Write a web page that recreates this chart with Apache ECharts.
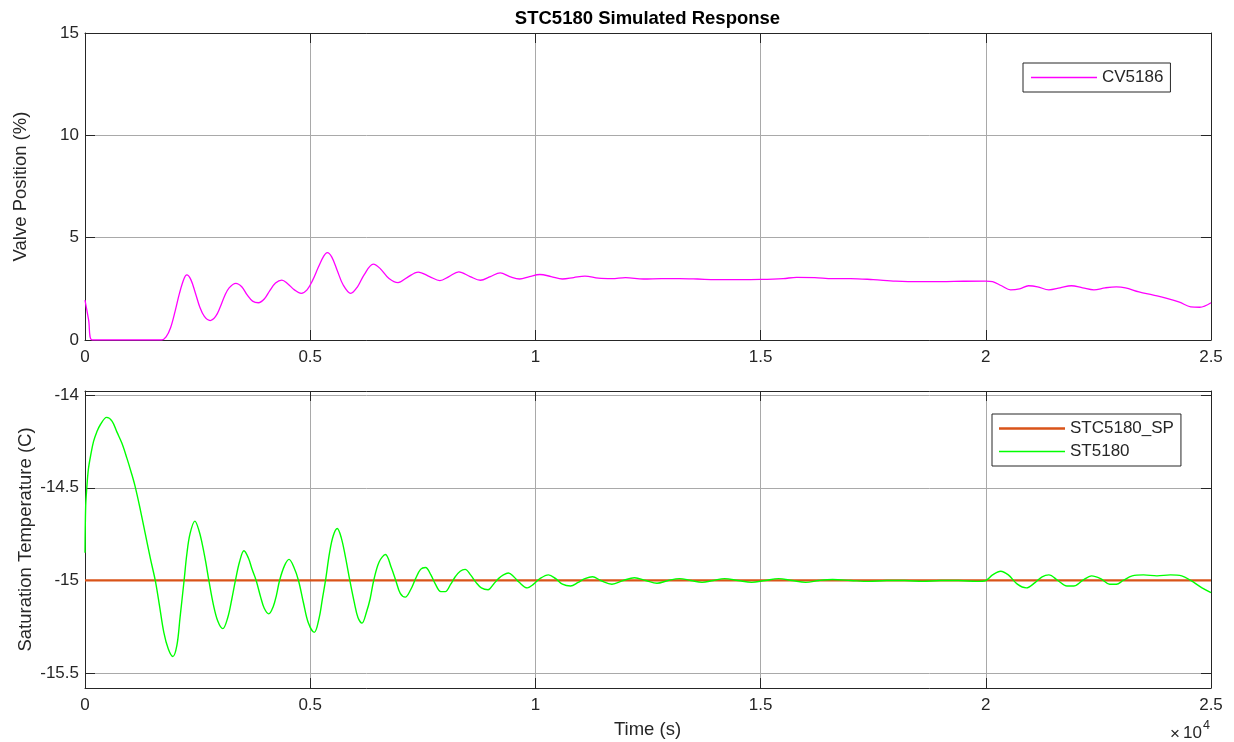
<!DOCTYPE html>
<html>
<head>
<meta charset="utf-8">
<title>STC5180 Simulated Response</title>
<script src="https://cdn.jsdelivr.net/npm/echarts@6/dist/echarts.min.js"></script>
<style>
  html, body { margin: 0; padding: 0; background: #ffffff; }
  #chart { width: 1234px; height: 742px; }
</style>
</head>
<body>
<div id="chart"></div>
<script>
// Tick positions
const timeTicks = [0, 5000, 10000, 15000, 20000, 25000];
const valveTicks = [0, 5, 10, 15];
const tempTicks = [-15.5, -15, -14.5, -14];

// CV5186 valve position (%) vs time (s)
const cvTime = [0, 80, 160, 1700, 1800, 1900, 2000, 2100, 2200, 2260, 2350, 2450, 2550, 2650, 2780,
  2900, 3000, 3100, 3200, 3350, 3480, 3600, 3720, 3850, 3980, 4100, 4230, 4370, 4500, 4650, 4800,
  4930, 5050, 5180, 5300, 5380, 5480, 5600, 5730, 5900, 6050, 6200, 6400, 6550, 6750, 6950, 7150,
  7400, 7650, 7880, 8080, 8300, 8550, 8780, 9000, 9220, 9430, 9650, 9870, 10100, 10350, 10600,
  10850, 11100, 11400, 11700, 12000, 12400, 12800, 13200, 13600, 14000, 14500, 15000, 15500, 15800,
  16200, 16600, 17000, 17500, 18000, 18500, 19000, 19500, 20000, 20150, 20350, 20550, 20750, 20950,
  21150, 21400, 21650, 21900, 22150, 22400, 22650, 22900, 23100, 23400, 23700, 24000, 24300, 24550,
  24750, 25000];
const cvValue = [1.95, 0.98, 0.0, 0.0, 0.15, 0.6, 1.4, 2.3, 3.0, 3.18, 2.95, 2.3, 1.6, 1.15, 0.95,
  1.15, 1.6, 2.15, 2.55, 2.77, 2.6, 2.2, 1.9, 1.82, 2.0, 2.4, 2.78, 2.93, 2.75, 2.45, 2.28,
  2.45, 2.9, 3.55, 4.1, 4.27, 4.05, 3.4, 2.7, 2.28, 2.6, 3.2, 3.71, 3.5, 3.0, 2.8, 3.05,
  3.32, 3.1, 2.9, 3.1, 3.33, 3.1, 2.92, 3.1, 3.28, 3.1, 2.98, 3.1, 3.2, 3.1, 2.98,
  3.05, 3.12, 3.02, 3.0, 3.05, 2.98, 3.0, 3.0, 2.98, 2.95, 2.95, 2.96, 3.0, 3.06,
  3.05, 3.0, 3.0, 2.95, 2.88, 2.85, 2.85, 2.87, 2.88, 2.85, 2.65, 2.45, 2.5, 2.65,
  2.6, 2.45, 2.55, 2.65, 2.55, 2.45, 2.55, 2.6, 2.55, 2.35, 2.2, 2.05, 1.85, 1.62,
  1.6, 1.82];

// ST5180 saturation temperature (C) vs time (s)
const stTime = [0, 15, 40, 75, 130, 190, 260, 340, 480, 600, 710, 820, 930, 1030, 1110, 1230, 1340,
  1450, 1560, 1650, 1750, 1850, 1950, 2040, 2110, 2200, 2260, 2330, 2440, 2530, 2600, 2680, 2750,
  2850, 2950, 3060, 3170, 3260, 3340, 3430, 3530, 3630, 3710, 3800, 3900, 3980, 4080, 4180, 4250,
  4320, 4430, 4530, 4640, 4740, 4850, 4960, 5090, 5200, 5270, 5340, 5430, 5510, 5600, 5690, 5780,
  5880, 5980, 6060, 6150, 6250, 6330, 6410, 6530, 6670, 6800, 6900, 7000, 7110, 7230, 7340, 7450,
  7560, 7680, 7780, 7900, 8000, 8120, 8220, 8330, 8440, 8560, 8680, 8800, 8950, 9070, 9180, 9290,
  9400, 9520, 9640, 9820, 9960, 10100, 10290, 10450, 10600, 10780, 10950, 11100, 11270, 11450,
  11700, 11950, 12200, 12450, 12700, 12950, 13200, 13450, 13700, 13950, 14200, 14500, 14800, 15100,
  15400, 15700, 16000, 16300, 16600, 17000, 17400, 17800, 18200, 18600, 19000, 19400, 19800, 20000,
  20150, 20330, 20500, 20700, 20900, 21100, 21250, 21400, 21600, 21800, 21950, 22150, 22350, 22550,
  22750, 22900, 23050, 23250, 23500, 23800, 24100, 24350, 24550, 24800, 25000];
const stValue = [-14.85, -14.6, -14.5, -14.40, -14.32, -14.25, -14.2, -14.16, -14.12, -14.14, -14.2,
  -14.26, -14.34, -14.42, -14.49, -14.62, -14.75, -14.88, -15.0, -15.13, -15.28, -15.37, -15.41,
  -15.35, -15.2, -15.0, -14.86, -14.75, -14.68, -14.73, -14.8, -14.9, -15.0, -15.13, -15.22, -15.26,
  -15.2, -15.1, -15.0, -14.9, -14.84, -14.88, -14.94, -15.0, -15.09, -15.15, -15.18, -15.14, -15.08,
  -15.0, -14.92, -14.886, -14.93, -15.0, -15.12, -15.23, -15.28, -15.2, -15.1, -15.0, -14.85, -14.76,
  -14.72, -14.77, -14.87, -15.0, -15.12, -15.2, -15.23, -15.17, -15.1, -15.0, -14.9, -14.86, -14.93,
  -15.0, -15.07, -15.09, -15.05, -14.99, -14.94, -14.93, -14.97, -15.02, -15.06, -15.06, -15.02,
  -14.98, -14.95, -14.94, -14.97, -15.01, -15.04, -15.05, -15.02, -14.99, -14.97, -14.96, -14.98,
  -15.01, -15.04, -15.02, -14.99, -14.97, -14.99, -15.02, -15.03, -15.01, -14.99, -14.98, -15.0,
  -15.02, -15.0, -14.985, -15.0, -15.015, -15.0, -14.99, -15.0, -15.01, -15.0, -14.99, -15.0, -15.01,
  -15.0, -14.99, -15.0, -15.01, -15.0, -14.995, -15.0, -15.005, -15.0, -15.0, -15.005, -15.0, -15.0,
  -15.005, -15.0, -14.97, -14.95, -14.97, -15.02, -15.04, -15.01, -14.98, -14.97, -15.0, -15.03,
  -15.03, -15.0, -14.975, -14.99, -15.02, -15.02, -15.0, -14.975, -14.97, -14.975, -14.97, -14.975,
  -15.0, -15.04, -15.065];

// STC5180 setpoint (C)
const spTime = [0, 25000];
const spValue = [-15, -15];

const pairs = (xs, ys) => xs.map((x, i) => [x, ys[i]]);

const FONT = '"Liberation Sans", Arial, Helvetica, sans-serif';
const TEXT = '#262626';
const FRAME = '#262626';
const GRID = '#a9a9a9';

function xAxisPair(gridIndex) {
  const base = {
    gridIndex, type: 'value', min: 0, max: 25000, interval: 5000,
    axisLine: { show: true, onZero: false, lineStyle: { color: FRAME, width: 1 } },
    axisTick: { show: true, inside: true, length: 10, lineStyle: { color: FRAME, width: 1 } }
  };
  return [
    Object.assign({}, base, {
      position: 'bottom',
      axisLabel: { show: true, margin: 9, fontSize: 17, fontFamily: FONT, color: TEXT,
        formatter: v => String(v / 10000) },
      splitLine: { show: true, lineStyle: { color: GRID, width: 1 } }
    }),
    Object.assign({}, base, {
      position: 'top', axisLabel: { show: false }, splitLine: { show: false }
    })
  ];
}

function yAxisPair(gridIndex, extra, tickValues) {
  const tick = { show: true, inside: true, length: 10, lineStyle: { color: FRAME, width: 1 } };
  if (tickValues) tick.customValues = tickValues;
  const base = Object.assign({
    gridIndex, type: 'value',
    axisLine: { show: true, onZero: false, lineStyle: { color: FRAME, width: 1 } },
    axisTick: tick
  }, extra);
  const label = { show: true, margin: 6, fontSize: 17, fontFamily: FONT, color: TEXT };
  if (tickValues) label.customValues = tickValues;
  return [
    Object.assign({}, base, {
      position: 'left', axisLabel: label,
      splitLine: { show: true, lineStyle: { color: GRID, width: 1 } }
    }),
    Object.assign({}, base, {
      position: 'right', axisLabel: { show: false }, splitLine: { show: false }
    })
  ];
}

const legendCommon = {
  orient: 'vertical',
  itemWidth: 66,
  itemHeight: 14,
  symbolKeepAspect: true,
  backgroundColor: '#ffffff',
  borderColor: FRAME,
  borderWidth: 1,
  borderRadius: 0,
  selectedMode: false,
  textStyle: { fontSize: 17, fontFamily: FONT, color: TEXT }
};

// Flat line-shaped legend keys
const thinKey = 'path://M0,0H66V1.4H0Z';
const thickKey = 'path://M0,0H66V2.4H0Z';

const option = {
  animation: false,
  backgroundColor: '#ffffff',
  grid: [
    { left: 85, right: 23, top: 33, height: 307 },
    { left: 85, right: 23, top: 391, height: 297 }
  ],
  xAxis: [...xAxisPair(0), ...xAxisPair(1)],
  yAxis: [
    ...yAxisPair(0, { min: 0, max: 15, interval: 5 }, null),
    ...yAxisPair(1, { min: -15.58, max: -13.978 }, tempTicks)
  ],
  legend: [
    Object.assign({}, legendCommon, {
      data: [{ name: 'CV5186', icon: thinKey }],
      left: 1023, top: 63, padding: [6, 7, 6, 8], itemGap: 6
    }),
    Object.assign({}, legendCommon, {
      data: [{ name: 'STC5180_SP', icon: thickKey }, { name: 'ST5180', icon: thinKey }],
      left: 992, top: 414, padding: [6, 7, 6, 7], itemGap: 6
    })
  ],
  series: [
    {
      name: 'CV5186', type: 'line', xAxisIndex: 0, yAxisIndex: 0,
      data: pairs(cvTime, cvValue), symbol: 'none', showSymbol: false, smooth: 0.35,
      color: '#ff00ff', lineStyle: { color: '#ff00ff', width: 1.3 }
    },
    {
      name: 'STC5180_SP', type: 'line', xAxisIndex: 2, yAxisIndex: 2,
      data: pairs(spTime, spValue), symbol: 'none', showSymbol: false,
      color: '#d95319', lineStyle: { color: '#d95319', width: 2.2 }
    },
    {
      name: 'ST5180', type: 'line', xAxisIndex: 2, yAxisIndex: 2,
      data: pairs(stTime, stValue), symbol: 'none', showSymbol: false, smooth: 0.35,
      color: '#00ff00', lineStyle: { color: '#00ff00', width: 1.4 }
    }
  ],
  graphic: [
    { type: 'text', x: 647.5, y: 18.5, silent: true,
      style: { text: 'STC5180 Simulated Response', fontSize: 18.5, fontWeight: 'bold',
        fontFamily: FONT, fill: '#000000', align: 'center', verticalAlign: 'middle' } },
    { type: 'text', x: 21, y: 186.5, rotation: Math.PI / 2, silent: true,
      style: { text: 'Valve Position (%)', fontSize: 18.5, fontFamily: FONT, fill: TEXT,
        align: 'center', verticalAlign: 'middle' } },
    { type: 'text', x: 26, y: 539.5, rotation: Math.PI / 2, silent: true,
      style: { text: 'Saturation Temperature (C)', fontSize: 18.5, fontFamily: FONT, fill: TEXT,
        align: 'center', verticalAlign: 'middle' } },
    { type: 'text', x: 647.5, y: 730, silent: true,
      style: { text: 'Time (s)', fontSize: 18.5, fontFamily: FONT, fill: TEXT,
        align: 'center', verticalAlign: 'middle' } },
    { type: 'text', x: 1170, y: 734, silent: true,
      style: { text: '\u00d7', fontSize: 17, fontFamily: FONT, fill: TEXT,
        align: 'left', verticalAlign: 'middle' } },
    { type: 'text', x: 1183, y: 733, silent: true,
      style: { text: '10', fontSize: 17, fontFamily: FONT, fill: TEXT,
        align: 'left', verticalAlign: 'middle' } },
    { type: 'text', x: 1203, y: 726, silent: true,
      style: { text: '4', fontSize: 12.5, fontFamily: FONT, fill: TEXT,
        align: 'left', verticalAlign: 'middle' } }
  ]
};

const chart = echarts.init(document.getElementById('chart'), null, { renderer: 'canvas' });
chart.setOption(option);
</script>
</body>
</html>
